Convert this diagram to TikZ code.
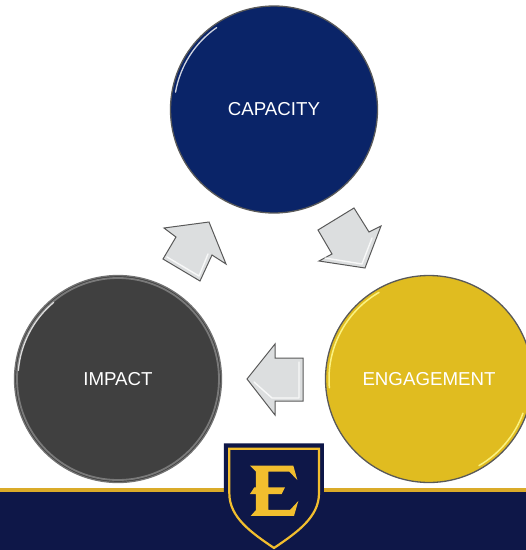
\documentclass[tikz,border=0pt]{standalone}
\usepackage{fontspec}
\setmainfont{Liberation Sans}
\definecolor{capblue}{HTML}{0A2468}
\definecolor{impgray}{HTML}{404040}
\definecolor{enggold}{HTML}{E0BC20}
\definecolor{bandnavy}{HTML}{0E1748}
\definecolor{logogold}{HTML}{F2BE2E}
\definecolor{arrowfill}{HTML}{DCDEDF}
\tikzset{
  disc/.style={circle,inner sep=0pt,minimum size=207pt,draw=#1,line width=1.3pt,text=white,font=\fontsize{18.7}{22}\selectfont},
  blockarrow/.style={draw=black!65,line width=1pt,fill=arrowfill,line join=miter},
  bevel/.style={line width=1.4pt,white,opacity=.8,line cap=round,line join=round},
  gloss/.style={line width=1.3pt,white,opacity=.8,line cap=round},
  goldgloss/.style={line width=1.5pt,yellow!45!white,opacity=.9,line cap=round},
  grayrim/.style={line width=1.8pt,black!50,opacity=.9},
}
\begin{document}
\begin{tikzpicture}[x=1pt,y=-1pt]
\useasboundingbox (0,0) rectangle (526,550);
\clip (0,0) rectangle (526,550);
\fill[white] (0,0) rectangle (526,550);
% band
\fill[bandnavy] (0,491) rectangle (526,550);
\fill[logogold!90!black] (0,488) rectangle (526,491.5);
% discs
\node[disc=black!65,fill=capblue] (capacity) at (274,109.5) {CAPACITY};
\node[disc=black!55,fill=impgray] (impact) at (118,379) {IMPACT};
\node[disc=black!65,fill=enggold] (engagement) at (429,379) {ENGAGEMENT};
% rims and highlights
\draw[grayrim] (impact.center) circle[radius=101];
\draw[gloss] (impact.center) ++(185:100) arc[start angle=185,end angle=230,radius=100];
\draw[gloss] (capacity.center) ++(190:100) arc[start angle=190,end angle=235,radius=100];
\draw[goldgloss] (engagement.center) ++(175:100) arc[start angle=175,end angle=240,radius=100];
\draw[goldgloss] (engagement.center) ++(20:100) arc[start angle=20,end angle=60,radius=100];
% block arrows
\path[blockarrow] (164,228) -- (209,222) -- (226,264) -- (212,255) -- (200,281) -- (163,259) -- (176,237) -- cycle;
\draw[bevel] (167,257) -- (199,276) -- (208,254);
\path[blockarrow] (318,230) -- (354,208) -- (369,232) -- (381,226) -- (365,268) -- (319,261) -- (332,254) -- cycle;
\draw[bevel] (325,258) -- (362,264) -- (372,238);
\path[blockarrow] (247,379) -- (275,344) -- (275,358) -- (303,358) -- (303,401) -- (275,401) -- (275,415) -- cycle;
\draw[bevel] (254,382) -- (272,398) -- (299,398) -- (299,362);
% shield
\begin{scope}[shift={(200,430)},x=.3333pt,y=-.3333pt]
\fill[bandnavy] (72,40) -- (372,40) -- (372,190) .. controls (372,270) and (300,320) .. (222,365) .. controls (145,320) and (72,270) .. (72,190) -- cycle;
\draw[logogold,line width=2.2pt,line join=miter] (88,56) -- (357,56) -- (357,190) .. controls (357,262) and (290,308) .. (222,354) .. controls (154,308) and (88,262) .. (88,190) -- cycle;
\fill[logogold] (150,107) -- (280,107) -- (292,150) -- (268,125) -- (205,125) -- (205,172) -- (255,172) -- (245,192) -- (205,192) -- (205,240) -- (270,240) -- (295,213) -- (282,258) -- (152,258) -- (168,240) -- (168,192) -- (150,192) -- (163,172) -- (168,172) -- (168,125) -- cycle;
\end{scope}
\end{tikzpicture}
\end{document}
